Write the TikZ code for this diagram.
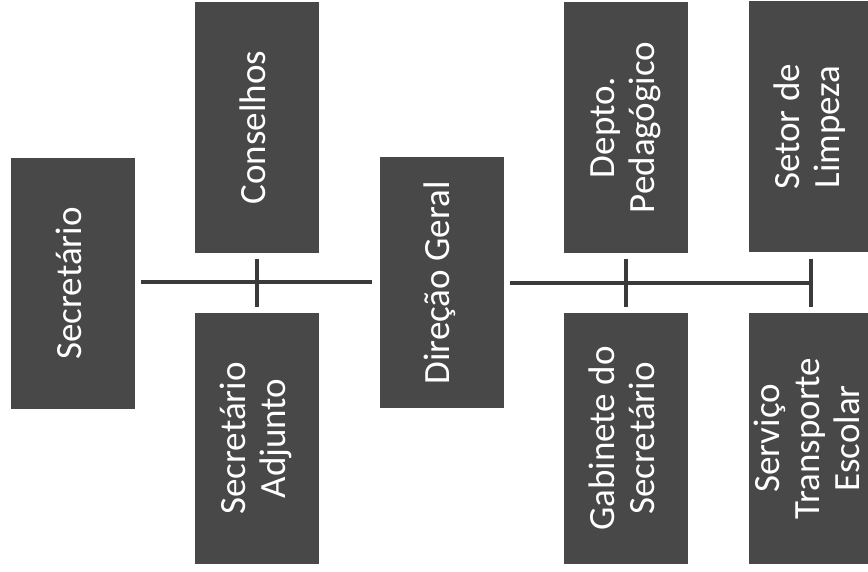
\documentclass[tikz,border=0pt]{standalone}
\usepackage{fontspec}
\setmainfont{Carlito}
\usepackage{graphicx}
\definecolor{boxgray}{RGB}{72,72,72}
\definecolor{linegray}{RGB}{58,58,58}
\tikzset{
  orgbox/.style={draw=none, fill=boxgray, minimum width=124pt, minimum height=251pt,
    inner sep=0pt, text=white, font=\fontsize{37}{40}\selectfont},
  conn/.style={draw=linegray, line width=4pt},
}
\newcommand{\vtext}[1]{\rotatebox{90}{\begin{tabular}{@{}c@{}}#1\end{tabular}}}
\begin{document}
\begin{tikzpicture}[x=1pt,y=1pt]
\fill[white] (0,0) rectangle (868,572);
\useasboundingbox (0,0) rectangle (868,572);
% y = 572 - image y
\node[orgbox] (sec) at (73,288.5) {\vtext{Secretário}};
\node[orgbox] (cons) at (257,444.5) {\vtext{Conselhos}};
\node[orgbox] (adj) at (257,133.5) {\vtext{Secretário\\Adjunto}};
\node[orgbox] (dir) at (441.5,289) {\vtext{Direção Geral}};
\node[orgbox] (dep) at (626,444.5) {\vtext{Depto.\\Pedagógico}};
\node[orgbox] (gab) at (626,133.5) {\vtext{Gabinete do\\Secretário}};
\node[orgbox] (set) at (811,445) {\vtext{Setor de\\Limpeza}};
\node[orgbox] (srv) at (811,133.5) {\vtext{Serviço\\Transporte\\Escolar}};
% connectors
\draw[conn, shorten <=6pt, shorten >=7pt] (sec.east |- 0,289.5) coordinate (a1) -- (dir.west |- a1);
\draw[conn, shorten <=6pt, shorten >=6pt] (cons.south) -- (adj.north);
\coordinate (rEnd) at (set.south |- dir.east);
\draw[conn, shorten <=6pt] (dir.east) -- (rEnd);
\draw[conn, shorten <=6pt, shorten >=6pt] (dep.south) -- (gab.north);
\draw[conn, shorten <=6pt, shorten >=6pt] (set.south) -- (srv.north);
\end{tikzpicture}
\end{document}
